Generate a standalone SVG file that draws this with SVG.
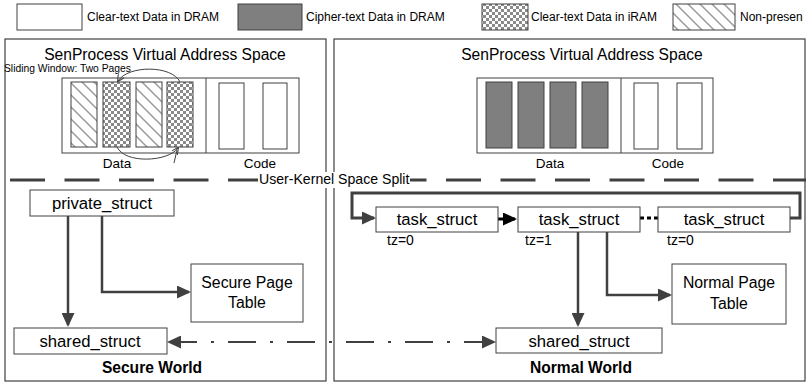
<svg xmlns="http://www.w3.org/2000/svg" width="809" height="383" viewBox="0 0 809 383">
  <style>
    text { font-family: "Liberation Sans", Arial, sans-serif; fill: #000; }
    .box { fill: #fff; stroke: #404040; stroke-width: 1; }
    .panel { fill: #fff; stroke: #404040; stroke-width: 1.2; }
    .page { stroke: #404040; stroke-width: 1; }
    .lbl { font-size: 16.7px; text-anchor: middle; }
    .pt { font-size: 15.8px; text-anchor: middle; }
    .title { font-size: 15.6px; text-anchor: middle; }
    .leg { font-size: 12px; }
    .small { font-size: 13.5px; text-anchor: middle; }
    .tz { font-size: 14px; }
    .world { font-size: 15.6px; font-weight: bold; text-anchor: middle; }
    .edge { fill: none; stroke: #404040; stroke-width: 2.5; }
    .thin { fill: none; stroke: #404040; stroke-width: 1; }
  </style>
  <defs>
    <pattern id="checker" width="6" height="6" patternUnits="userSpaceOnUse">
      <rect width="6" height="6" fill="#fff"/>
      <rect width="3" height="3" fill="#8a8a8a"/>
      <rect x="3" y="3" width="3" height="3" fill="#8a8a8a"/>
    </pattern>
    <pattern id="hatch" width="12" height="12" patternUnits="userSpaceOnUse">
      <rect width="12" height="12" fill="#fff"/>
      <path d="M0,0 L12,12 M-6,6 L6,18 M6,-6 L18,6" stroke="#9a9a9a" stroke-width="1.5"/>
    </pattern>
    <marker id="head" viewBox="0 0 14 13" refX="12" refY="6.5" markerWidth="14" markerHeight="13" markerUnits="userSpaceOnUse" orient="auto-start-reverse">
      <path d="M0,0 L14,6.5 L0,13 z" fill="#404040"/>
    </marker>
    <marker id="headDark" viewBox="0 0 14 13" refX="12" refY="6.5" markerWidth="14" markerHeight="13" markerUnits="userSpaceOnUse" orient="auto">
      <path d="M0,0 L14,6.5 L0,13 z" fill="#000"/>
    </marker>
    <marker id="tiny" viewBox="0 0 8 8" refX="7" refY="4" markerWidth="7" markerHeight="7" markerUnits="userSpaceOnUse" orient="auto">
      <path d="M0,0 L8,4 L0,8" fill="none" stroke="#404040" stroke-width="1.2"/>
    </marker>
  </defs>

  <!-- legend -->
  <g id="legend">
    <rect class="box" x="17" y="4" width="65" height="26"/>
    <text class="leg" x="87" y="21">Clear-text Data in DRAM</text>
    <rect class="page" x="238" y="4" width="64" height="26" fill="#7f7f7f"/>
    <text class="leg" x="306" y="21">Cipher-text Data in DRAM</text>
    <rect class="page" x="482" y="4" width="46" height="26" fill="url(#checker)"/>
    <text class="leg" x="531" y="21">Clear-text Data in iRAM</text>
    <rect class="page" x="673" y="4" width="62" height="26" fill="url(#hatch)"/>
    <text class="leg" x="740" y="21">Non-presen</text>
  </g>

  <!-- world panels -->
  <g id="secure-panel">
    <rect class="panel" x="5" y="39" width="321" height="342"/>
    <text class="title" x="165" y="60">SenProcess Virtual Address Space</text>
    <text x="4" y="72" style="font-size:10.3px">Sliding Window: Two Pages</text>
    <rect class="box" x="62" y="78" width="237" height="75"/>
    <line class="thin" x1="206" y1="78" x2="206" y2="153"/>
    <rect class="page" x="71" y="82" width="26" height="65" fill="url(#hatch)"/>
    <rect class="page" x="103" y="82" width="27" height="65" fill="url(#checker)"/>
    <rect class="page" x="136" y="82" width="26" height="65" fill="url(#hatch)"/>
    <rect class="page" x="167" y="82" width="26" height="65" fill="url(#checker)"/>
    <rect class="box" x="219" y="83" width="25" height="66"/>
    <rect class="box" x="263" y="83" width="24" height="66"/>
    <path class="thin" d="M180,82 C172,65 128,65 118,81" marker-end="url(#tiny)"/>
    <path class="thin" d="M117,147 C125,164 168,162 178,148" marker-end="url(#tiny)"/>
    <line class="thin" x1="177" y1="150" x2="174" y2="163"/>
    <text class="small" x="117" y="168">Data</text>
    <text class="small" x="260" y="168">Code</text>
    <text class="world" x="152" y="373">Secure World</text>
  </g>

  <g id="normal-panel">
    <rect class="panel" x="334" y="39" width="471" height="342"/>
    <text class="title" x="582" y="60">SenProcess Virtual Address Space</text>
    <rect class="box" x="477" y="78" width="236" height="75"/>
    <line class="thin" x1="621" y1="78" x2="621" y2="153"/>
    <rect class="page" x="486" y="82" width="26" height="66" fill="#7f7f7f"/>
    <rect class="page" x="518" y="82" width="26" height="66" fill="#7f7f7f"/>
    <rect class="page" x="550" y="82" width="26" height="66" fill="#7f7f7f"/>
    <rect class="page" x="582" y="82" width="26" height="66" fill="#7f7f7f"/>
    <rect class="box" x="634" y="83" width="24" height="66"/>
    <rect class="box" x="677" y="83" width="25" height="66"/>
    <text class="small" x="550" y="168">Data</text>
    <text class="small" x="668" y="168">Code</text>
    <text class="world" x="581" y="373">Normal World</text>
  </g>

  <!-- user/kernel boundary -->
  <g id="split">
    <line x1="10" y1="180" x2="806" y2="180" stroke="#404040" stroke-width="3" stroke-dasharray="35 19.5"/>
    <rect x="258" y="172" width="152" height="16" fill="#fff"/>
    <text x="259" y="184" style="font-size:14.1px">User-Kernel Space Split</text>
  </g>

  <!-- connectors -->
  <g id="connectors">
    <path class="edge" d="M68,216 V325" marker-end="url(#head)"/>
    <path class="edge" d="M102,216 V292 H189" marker-end="url(#head)"/>
    <path d="M169,342 H494" fill="none" stroke="#404040" stroke-width="2" stroke-dasharray="28 14 3 14" marker-start="url(#head)" marker-end="url(#head)"/>
    <path d="M790,218 H800 V193 H352 V218 H374" fill="none" stroke="#404040" stroke-width="3" marker-end="url(#head)"/>
    <path d="M498,219 H515" fill="none" stroke="#000" stroke-width="3" marker-end="url(#headDark)"/>
    <path d="M640,218 H658" fill="none" stroke="#000" stroke-width="3" stroke-dasharray="4 3"/>
    <path class="edge" d="M578,232 V325" marker-end="url(#head)"/>
    <path class="edge" d="M607,232 V295 H670" marker-end="url(#head)"/>
  </g>

  <!-- secure world nodes -->
  <g id="private-struct">
    <rect class="box" x="30" y="190" width="144" height="26"/>
    <text class="lbl" x="102" y="209">private_struct</text>
  </g>
  <g id="secure-page-table">
    <rect class="box" x="191" y="264" width="112" height="58"/>
    <text class="pt" x="247" y="288">Secure Page</text>
    <text class="pt" x="247" y="308">Table</text>
  </g>
  <g id="shared-struct-secure">
    <rect class="box" x="14" y="328" width="153" height="26"/>
    <text class="lbl" x="90" y="347">shared_struct</text>
  </g>

  <!-- normal world nodes -->
  <g id="task-struct-1">
    <rect class="box" x="376" y="207" width="122" height="25"/>
    <text class="lbl" x="437" y="225">task_struct</text>
    <text class="tz" x="387" y="245">tz=0</text>
  </g>
  <g id="task-struct-2">
    <rect class="box" x="518" y="207" width="122" height="25"/>
    <text class="lbl" x="579" y="225">task_struct</text>
    <text class="tz" x="525" y="245">tz=1</text>
  </g>
  <g id="task-struct-3">
    <rect class="box" x="658" y="207" width="132" height="25"/>
    <text class="lbl" x="724" y="225">task_struct</text>
    <text class="tz" x="667" y="245">tz=0</text>
  </g>
  <g id="normal-page-table">
    <rect class="box" x="672" y="264" width="114" height="60"/>
    <text class="pt" x="729" y="288">Normal Page</text>
    <text class="pt" x="729" y="309">Table</text>
  </g>
  <g id="shared-struct-normal">
    <rect class="box" x="496" y="328" width="166" height="25"/>
    <text class="lbl" x="579" y="347">shared_struct</text>
  </g>
</svg>
